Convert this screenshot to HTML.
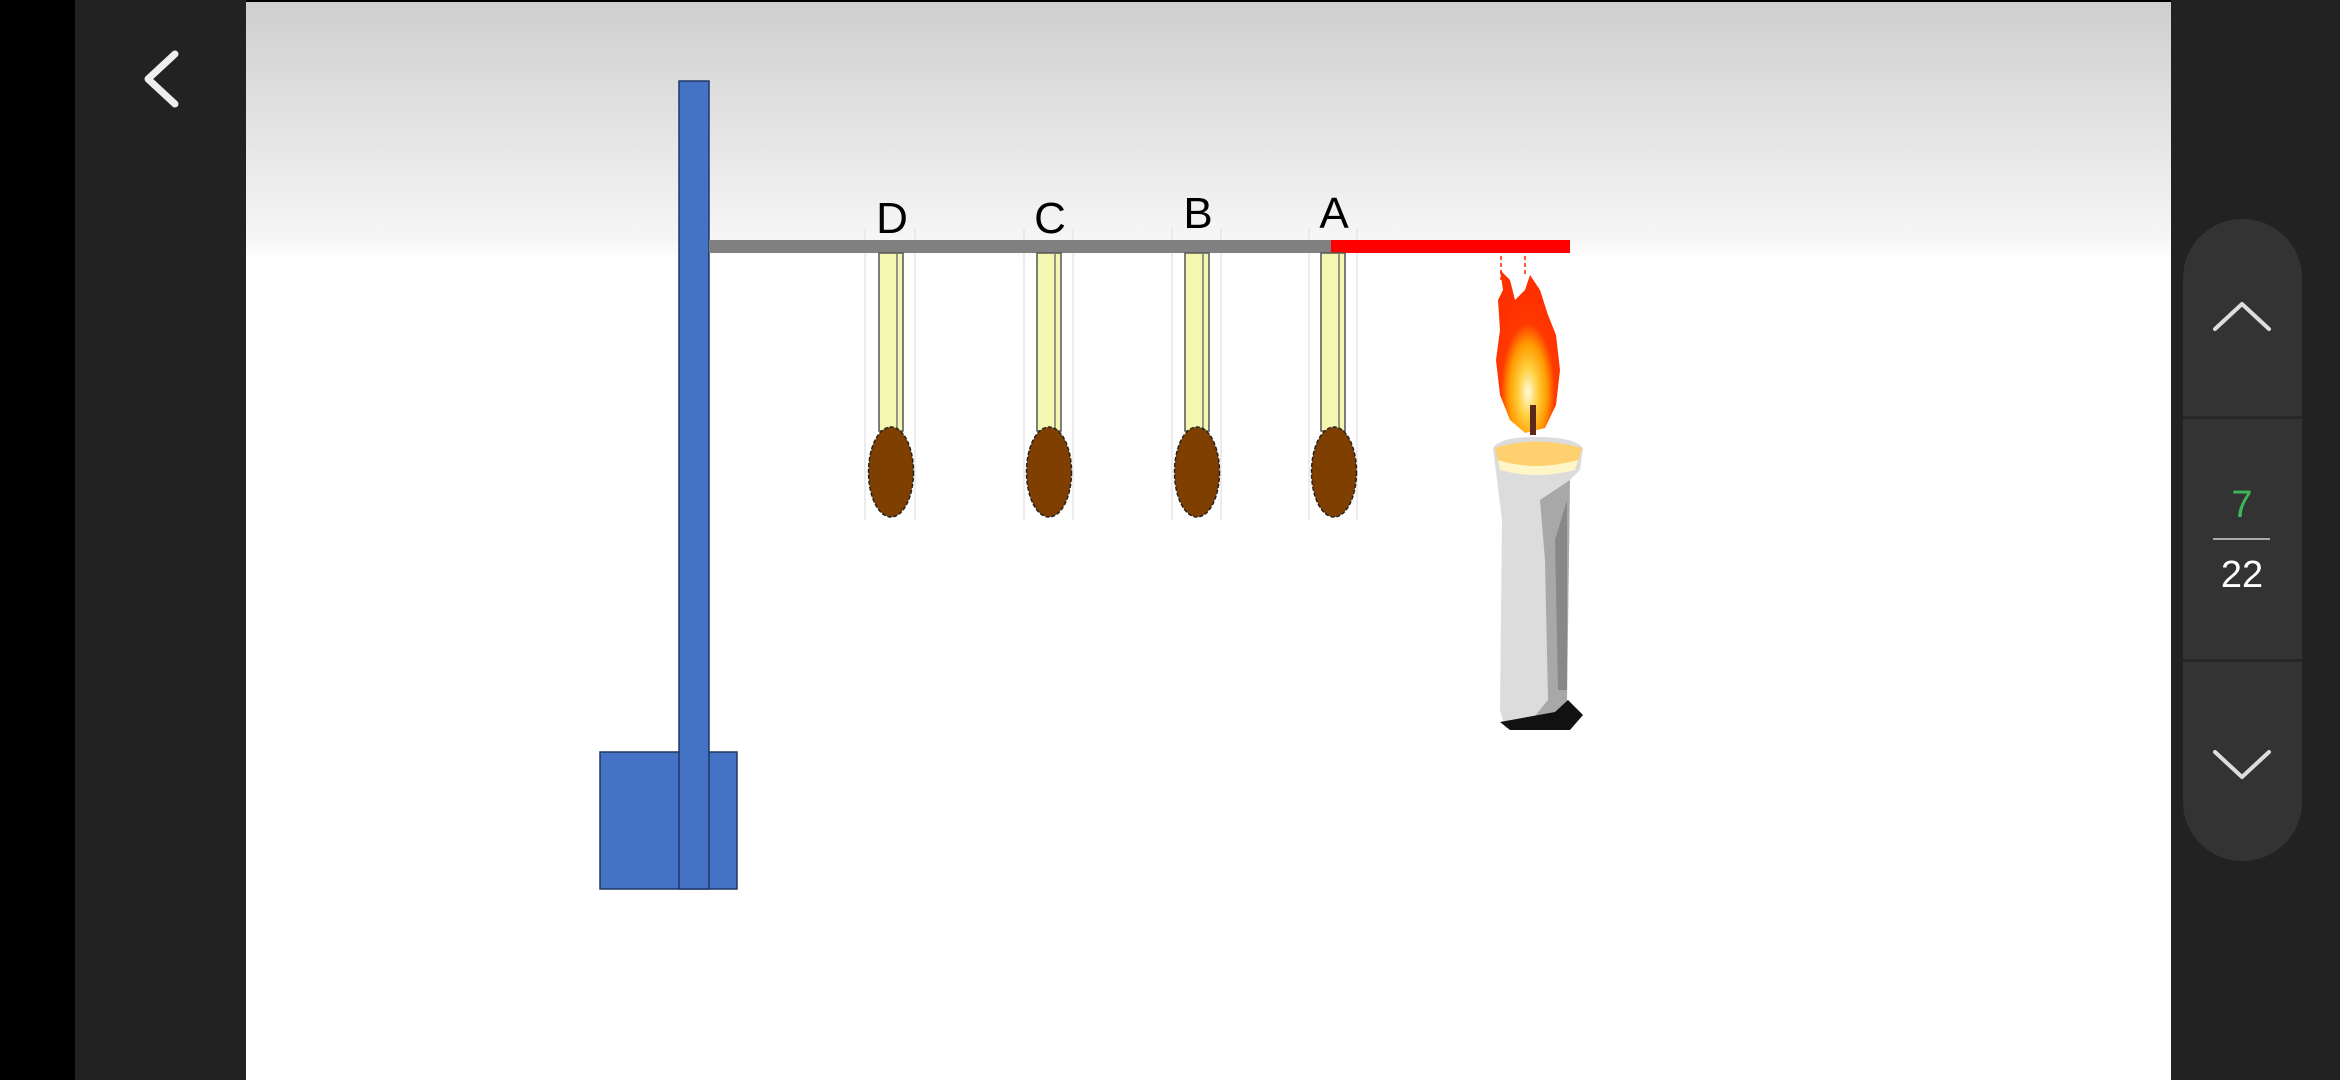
<!DOCTYPE html>
<html><head><meta charset="utf-8"><style>
html,body{margin:0;padding:0;width:2340px;height:1080px;overflow:hidden;background:#000}
svg{display:block}
</style></head><body>
<svg width="2340" height="1080" viewBox="0 0 2340 1080" xmlns="http://www.w3.org/2000/svg">
<defs>
<linearGradient id="bg" x1="0" y1="0" x2="0" y2="1">
<stop offset="0" stop-color="#cfcfcf"/><stop offset="0.22" stop-color="#f6f6f6"/><stop offset="0.24" stop-color="#ffffff"/><stop offset="1" stop-color="#ffffff"/>
</linearGradient>
<radialGradient id="fl" cx="0.5" cy="0.75" r="0.6">
<stop offset="0" stop-color="#fffbe0"/><stop offset="0.25" stop-color="#ffd040"/><stop offset="0.5" stop-color="#ff9a00"/><stop offset="0.7" stop-color="#ff3a00"/><stop offset="1" stop-color="#ff3000"/>
</radialGradient>
</defs>
<rect x="0" y="0" width="75" height="1080" fill="#000"/>
<rect x="75" y="0" width="171" height="1080" fill="#222"/>
<rect x="2171" y="0" width="169" height="1080" fill="#222"/>
<rect x="246" y="2" width="1925" height="1078" fill="url(#bg)"/>
<polyline points="175,54 148,79 175,104" fill="none" stroke="#eee" stroke-width="7" stroke-linecap="round" stroke-linejoin="round"/>
<!-- right panel -->
<rect x="2183" y="219" width="119" height="642" rx="59" fill="#333"/>
<rect x="2183" y="416" width="119" height="3" fill="#262626"/>
<rect x="2183" y="659" width="119" height="3" fill="#262626"/>
<polyline points="2215,329 2242,304 2269,329" fill="none" stroke="#ddd" stroke-width="4" stroke-linecap="round" stroke-linejoin="round"/>
<polyline points="2215,752 2242,777 2269,752" fill="none" stroke="#ddd" stroke-width="4" stroke-linecap="round" stroke-linejoin="round"/>
<text x="2242" y="517" text-anchor="middle" font-family="Liberation Sans, sans-serif" font-size="38" fill="#3cb85a">7</text>
<rect x="2213" y="538" width="57" height="2" fill="#aaa"/>
<text x="2242" y="587" text-anchor="middle" font-family="Liberation Sans, sans-serif" font-size="38" fill="#fff">22</text>
<!-- stand -->
<rect x="600" y="752" width="137" height="137" fill="#4472c4" stroke="#1f3864" stroke-width="1.5"/>
<rect x="679" y="81" width="30" height="808" fill="#4472c4" stroke="#1f3864" stroke-width="1.5"/>
<!-- guides -->
<g stroke="#e6e6e6" stroke-width="1.5">
<line x1="865" y1="228" x2="865" y2="520"/><line x1="915" y1="228" x2="915" y2="520"/>
<line x1="1024" y1="228" x2="1024" y2="520"/><line x1="1073" y1="228" x2="1073" y2="520"/>
<line x1="1172" y1="228" x2="1172" y2="520"/><line x1="1221" y1="228" x2="1221" y2="520"/>
<line x1="1309" y1="228" x2="1309" y2="520"/><line x1="1357" y1="228" x2="1357" y2="520"/>
</g>
<rect x="709" y="240" width="623" height="13" fill="#808080"/>
<rect x="1331" y="240" width="239" height="13" fill="#ff0000"/>
<!-- matches -->
<g fill="#f3f7b0" stroke="#555" stroke-width="1.5">
<rect x="879" y="253" width="24" height="178"/>
<rect x="1037" y="253" width="24" height="178"/>
<rect x="1185" y="253" width="24" height="178"/>
<rect x="1321" y="253" width="24" height="178"/>
</g>
<g fill="none" stroke="#777" stroke-width="1.5">
<line x1="897" y1="253" x2="897" y2="431"/><line x1="1055" y1="253" x2="1055" y2="431"/>
<line x1="1203" y1="253" x2="1203" y2="431"/><line x1="1339" y1="253" x2="1339" y2="431"/>
</g>
<g fill="#7f3f00" stroke="#222" stroke-width="1.5" stroke-dasharray="4 2">
<ellipse cx="891" cy="472" rx="22.5" ry="45"/>
<ellipse cx="1049" cy="472" rx="22.5" ry="45"/>
<ellipse cx="1197" cy="472" rx="22.5" ry="45"/>
<ellipse cx="1334" cy="472" rx="22.5" ry="45"/>
</g>
<g font-family="Liberation Sans, sans-serif" font-size="44" fill="#000" text-anchor="middle">
<text x="892" y="233">D</text>
<text x="1050" y="233">C</text>
<text x="1198" y="228">B</text>
<text x="1334" y="228">A</text>
</g>
<!-- candle -->
<g stroke="#ff5a30" stroke-width="2" stroke-dasharray="4 3">
<line x1="1501" y1="256" x2="1501" y2="280"/><line x1="1525" y1="256" x2="1525" y2="275"/>
</g>
<path d="M1500,270 L1503,290 L1498,300 L1500,330 L1496,360 L1500,395 L1510,420 L1525,433 L1545,428 L1556,405 L1560,370 L1556,335 L1548,315 L1540,290 L1530,275 L1525,290 L1515,300 L1510,280 Z" fill="url(#fl)"/>
<rect x="1530" y="405" width="6" height="30" fill="#5a2a1a"/>
<path d="M1493,448 Q1500,437 1535,437 Q1575,437 1583,448 L1580,470 L1570,480 L1567,700 L1580,713 L1570,728 L1505,728 L1500,710 L1502,520 L1497,480 Z" fill="#dcdcdc"/>
<path d="M1540,500 L1570,480 L1567,700 L1578,713 L1565,722 L1530,722 L1548,700 L1545,560 Z" fill="#a8a8a8"/>
<path d="M1555,540 L1567,500 L1567,690 L1558,690 Z" fill="#888"/>
<path d="M1495,448 Q1535,435 1582,448 L1578,462 Q1535,472 1498,462 Z" fill="#ffd070"/>
<path d="M1498,460 Q1535,472 1578,460 L1575,470 Q1535,480 1500,470 Z" fill="#fff6c8"/>
<path d="M1555,712 L1568,700 L1583,715 L1570,730 L1510,730 L1500,722 Z" fill="#111"/>
</svg>
</body></html>
